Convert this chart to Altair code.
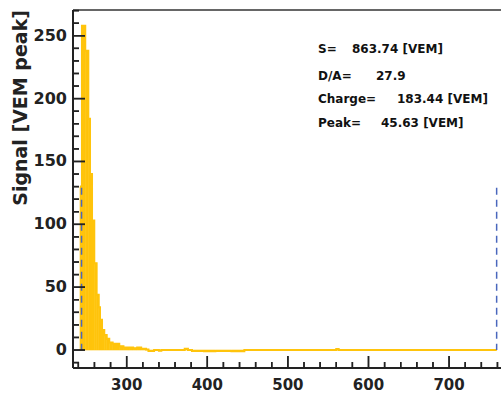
import altair as alt
import pandas as pd

# Histogram (step) – left edges and signal heights
bin_left = [242.1, 244.5, 248.6, 252.4, 254.5, 257.0, 259.8, 262.7, 265.3, 266.9,
            269.4, 272.2, 275.2, 278.4, 282.6, 290.8, 296.0, 303.0, 308.0, 313.0,
            318.0, 324.0, 327.0, 334.0, 340.0, 343.0, 372.0, 376.0, 381.0, 396.0,
            410.0, 430.0, 446.0, 560.0, 563.0, 759.0]
signal = [130, 258, 238, 184, 140, 103, 69, 44, 34, 24,
          16, 12, 9, 6, 5, 3, 2, 2, 1.5, 2,
          1, 0.5, -0.8, 0, -0.5, 0, 1, 0, -0.8, -1,
          -0.8, -1, 0, 0.8, 0, 0]

# Dashed markers (start / end of trace)
dash_x = [244.0, 759.0]
dash_top = [129, 129]

# Text box
ann_labels = ["S=", "D/A=", "Charge=", "Peak="]
ann_values = ["863.74 [VEM]", "27.9", "183.44 [VEM]", "45.63 [VEM]"]
y_title = "Signal [VEM peak]"

x_ticks_major = [300, 400, 500, 600, 700]
y_ticks_major = [0, 50, 100, 150, 200, 250]
x_ticks_minor = [240, 260, 280, 320, 340, 360, 380, 420, 440, 460, 480,
                 520, 540, 560, 580, 620, 640, 660, 680, 720, 740, 760]
y_ticks_minor = [-10, 10, 20, 30, 40, 60, 70, 80, 90, 110, 120, 130, 140,
                 160, 170, 180, 190, 210, 220, 230, 240, 260, 270]

W, H = 428, 358
XDOM = [233.4, 764.4]
YDOM = [-14.3, 270.5]
FONT = "DejaVu Sans"
YEL = "#FFC40C"
AX = "#222222"
TXT = "#222222"

df = pd.DataFrame({"t": bin_left, "s": signal})
bars_df = pd.DataFrame({"t": bin_left[:-1], "t2": bin_left[1:], "s": signal[:-1]})
ddf = pd.DataFrame({"t": dash_x, "top": dash_top})
one = pd.DataFrame({"a": [0]})

xs = alt.Scale(domain=XDOM, nice=False, zero=False)
ys = alt.Scale(domain=YDOM, nice=False, zero=False)

bars = alt.Chart(bars_df).mark_bar(color=YEL, opacity=1, stroke=YEL, strokeWidth=0.6).encode(
    x=alt.X("t:Q", scale=xs, axis=None),
    x2="t2:Q",
    y=alt.Y("s:Q", scale=ys, axis=None),
    y2=alt.datum(0),
)
line = alt.Chart(df).mark_line(interpolate="step-after", color=YEL, strokeWidth=2).encode(
    x=alt.X("t:Q", scale=xs, axis=None),
    y=alt.Y("s:Q", scale=ys, axis=None),
)
dashes = alt.Chart(ddf).mark_rule(color="#4A67BD", strokeWidth=1.5, strokeDash=[7, 5]).encode(
    x=alt.X("t:Q", scale=xs, axis=None),
    y=alt.Y("top:Q", scale=ys, axis=None),
    y2=alt.datum(0),
)

def xticks(vals, size):
    d = pd.DataFrame({"v": vals})
    r = alt.Chart(d).mark_rule(color=AX, strokeWidth=1.5).encode(
        x=alt.X("v:Q", scale=xs, axis=None), y=alt.value(H), y2=alt.value(H - size))
    t = alt.Chart(d).mark_tick(color=AX, thickness=1.5, size=size, opacity=1).encode(
        x=alt.X("v:Q", scale=xs, axis=None), y=alt.value(H - size / 2))
    return [r, t]

def yticks(vals, size):
    d = pd.DataFrame({"v": vals})
    r = alt.Chart(d).mark_rule(color=AX, strokeWidth=1.5).encode(
        y=alt.Y("v:Q", scale=ys, axis=None), x=alt.value(0), x2=alt.value(size))
    t = alt.Chart(d).mark_tick(color=AX, thickness=1.5, size=size, opacity=1).encode(
        y=alt.Y("v:Q", scale=ys, axis=None), x=alt.value(size / 2))
    return [r, t]

xlabels = alt.Chart(pd.DataFrame({"v": x_ticks_major})).mark_text(
    font=FONT, fontWeight="bold", fontSize=15, color=TXT, align="center", baseline="top"
).encode(x=alt.X("v:Q", scale=xs, axis=None), y=alt.value(H + 10), text=alt.Text("v:Q"))

ylabels = alt.Chart(pd.DataFrame({"v": y_ticks_major})).mark_text(
    font=FONT, fontWeight="bold", fontSize=16, color=TXT, align="right", baseline="middle"
).encode(y=alt.Y("v:Q", scale=ys, axis=None), x=alt.value(-6), text=alt.Text("v:Q"))

ytitle = alt.Chart(one).mark_text(
    font=FONT, fontWeight="bold", fontSize=19, color=TXT, align="right",
    baseline="alphabetic", angle=270
).encode(x=alt.value(-46), y=alt.value(0), text=alt.value(y_title))

left_line = alt.Chart(one).mark_rule(color=AX, strokeWidth=2).encode(
    x=alt.value(0), y=alt.value(0), y2=alt.value(H))
bottom_line = alt.Chart(one).mark_rule(color=AX, strokeWidth=2).encode(
    x=alt.value(0), x2=alt.value(W + 5), y=alt.value(H))
top_border = alt.Chart(one).mark_rule(color="#666", strokeWidth=2).encode(
    x=alt.value(0), x2=alt.value(W + 5), y=alt.value(0))

rows_y = [39, 66, 89, 113]
val_x = [279, 303, 324, 308]
texts = []
for lab, val, yy, vx in zip(ann_labels, ann_values, rows_y, val_x):
    texts.append(alt.Chart(one).mark_text(font=FONT, fontWeight="bold", fontSize=12,
                                          color="#111", align="left", baseline="middle").encode(
        x=alt.value(245), y=alt.value(yy), text=alt.value(lab)))
    texts.append(alt.Chart(one).mark_text(font=FONT, fontWeight="bold", fontSize=12,
                                          color="#111", align="left", baseline="middle").encode(
        x=alt.value(vx), y=alt.value(yy), text=alt.value(val)))

chart = alt.layer(
    bars, line, dashes,
    left_line, bottom_line, top_border,
    xlabels, ylabels, ytitle, *texts,
    *xticks(x_ticks_major, 12), *xticks(x_ticks_minor, 6),
    *yticks(y_ticks_major, 12), *yticks(y_ticks_minor, 6),
).properties(
    width=W, height=H,
    autosize=alt.AutoSizeParams(type="none"),
    padding={"left": 73, "top": 10, "right": 0, "bottom": 26},
    background="white",
).configure_view(stroke=None)

chart.save("out.html", embed_options={"renderer": "svg", "actions": False})
